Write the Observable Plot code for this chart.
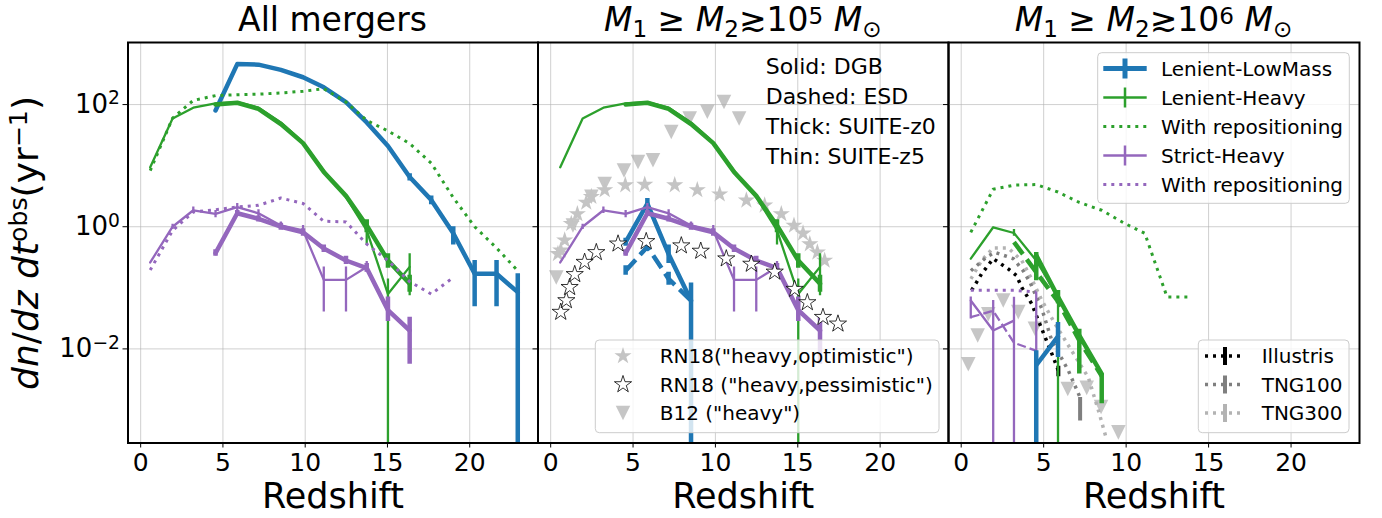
<!DOCTYPE html>
<html>
<head>
<meta charset="utf-8">
<script src="https://cdn.jsdelivr.net/npm/d3@7"></script>
<script src="https://cdn.jsdelivr.net/npm/@observablehq/plot@0.6"></script>
<style>
html,body{margin:0;padding:0;background:#fff;}
#wrap{position:relative;width:1382px;height:518px;overflow:hidden;font-family:"DejaVu Sans",sans-serif;color:#000;}
.ttl{position:absolute;transform:translateX(-50%);font-size:33px;line-height:40px;white-space:nowrap;}
.ttl sub,.ttl sup,.ylab sup{font-size:0.7em;line-height:0;vertical-align:0;position:relative;}
.ttl sub{top:0.25em;}
.ttl sup{top:-0.32em;}
.ylab{position:absolute;left:26px;top:243px;transform:translate(-50%,-50%) rotate(-90deg);font-size:36px;line-height:40px;white-space:nowrap;}
.ylab sup{top:-0.45em;}
</style>
</head>
<body>
<div id="wrap"></div>
<script>
// ---------------- axes / labels ----------------
const X_DOMAIN = [-0.77, 24.15];
const Y_DOMAIN = [2.88e-4, 1038];
const X_TICKS = [0, 5, 10, 15, 20];
const Y_TICKS = [1e-2, 1, 1e2];
const Y_TICK_EXP = ["−2", "0", "2"];
const LOW = 1e-7; // error bars whose lower end reaches zero
const PANEL_TITLES = [
  "All mergers",
  "<i>M</i><sub>1</sub> ≥ <i>M</i><sub>2</sub>≳10<sup>5</sup> <i>M</i><sub>⊙</sub>",
  "<i>M</i><sub>1</sub> ≥ <i>M</i><sub>2</sub>≳10<sup>6</sup> <i>M</i><sub>⊙</sub>"
];
const Y_LABEL = "<i>dn</i>/<i>dz</i> <i>dt</i><sup>obs</sup>(yr<sup>−1</sup>)";
const X_LABEL = "Redshift";
const STYLE_NOTE = ["Solid: DGB", "Dashed: ESD", "Thick: SUITE-z0", "Thin: SUITE-z5"];
const LEGEND_MAIN = ["Lenient-LowMass", "Lenient-Heavy", "With repositioning", "Strict-Heavy", "With repositioning"];
const LEGEND_SIMS = ["Illustris", "TNG100", "TNG300"];
const LEGEND_OBS = ['RN18("heavy,optimistic")', 'RN18 ("heavy,pessimistic")', 'B12 ("heavy")'];

// ---------------- panel 1: all mergers  [z, rate] ----------------
const allLowMassThick = [[4.55,80],[5.87,460],[7.16,450],[8.52,370],[9.87,280],[11.13,192],[12.48,110],[13.74,51],[15.03,21],[16.35,6.5],[17.66,2.75],[19.0,0.78],[20.3,0.17],[21.63,0.17],[22.92,0.085]];
const allLowMassThickErr = [[16.35,5.6,7.4],[17.66,2.3,3.2],[19.0,0.5,1.0],[20.3,0.049,0.28],[21.63,0.049,0.28],[22.92,LOW,0.17]];
const allHeavyThin = [[0.58,9.4],[1.94,59],[3.2,89],[4.55,105],[5.87,110],[7.16,89],[8.52,51],[9.87,24],[11.13,8.3],[12.48,3.05],[13.74,0.87],[15.03,0.079],[16.35,0.22]];
const allHeavyThinErr = [[13.74,0.5,1.0],[15.03,LOW,0.14],[16.35,0.074,0.36]];
const allHeavyThick = [[4.55,100],[5.87,107],[7.16,85],[8.52,48],[9.87,23.4],[11.13,7.9],[12.48,3.2],[13.74,1.05],[15.03,0.28],[16.35,0.117]];
const allHeavyThickErr = [[13.74,0.8,1.3],[15.03,0.21,0.36],[16.35,0.085,0.16]];
const allHeavyRepo = [[0.58,8.3],[1.94,60],[3.2,117],[4.55,140],[5.87,145],[7.16,148],[8.52,155],[9.87,165],[11.13,182],[12.48,110],[13.74,55],[15.03,37],[16.35,23],[17.66,11],[19.0,3.0],[20.3,1.0],[21.63,0.45],[22.92,0.19]];
const allStrictThin = [[0.58,0.26],[1.94,1.0],[3.2,1.86],[4.55,1.62],[5.87,2.1],[7.16,1.66],[8.52,1.05],[9.87,0.87],[11.13,0.135],[12.48,0.135],[13.74,0.22]];
const allStrictThinErr = [[1.94,0.9,1.1],[3.2,1.65,2.1],[4.55,1.4,1.85],[5.87,1.85,2.4],[7.16,1.45,1.9],[8.52,0.9,1.2],[9.87,0.72,1.05],[11.13,0.04,0.22],[12.48,0.04,0.22],[13.74,0.18,0.27]];
const allStrictThick = [[4.55,0.37],[5.87,1.66],[7.16,1.35],[8.52,1.0],[9.87,0.81],[11.13,0.44],[12.48,0.28],[13.74,0.21],[15.03,0.043],[16.35,0.020]];
const allStrictThickErr = [[4.55,0.33,0.42],[5.87,1.5,1.85],[7.16,1.2,1.5],[8.52,0.88,1.14],[9.87,0.7,0.93],[11.13,0.38,0.5],[12.48,0.24,0.33],[13.74,0.18,0.25],[15.03,0.028,0.071],[16.35,0.0056,0.033]];
const allStrictRepo = [[0.58,0.195],[1.94,0.87],[3.2,1.74],[4.55,1.9],[5.87,2.1],[7.16,2.24],[8.52,2.95],[9.87,2.4],[11.13,1.23],[12.48,1.2],[13.74,0.52],[15.03,0.28],[16.35,0.126],[17.66,0.079],[19.0,0.148]];

// ---------------- panel 2: M2 >~ 1e5 ----------------
const m5LowMassSolid = [[4.55,0.56],[5.87,2.4],[7.16,0.355],[8.52,0.062]];
const m5LowMassSolidErr = [[4.55,0.48,0.65],[5.87,2.0,2.9],[7.16,0.25,0.5],[8.52,LOW,0.12]];
const m5LowMassDashed = [[4.55,0.19],[5.87,0.47],[7.16,0.14],[8.52,0.062]];
const m5LowMassDashedErr = [[4.55,0.16,0.23],[7.16,0.11,0.18]];
const rn18Optimistic = [[0.44,0.36],[0.61,0.41],[0.85,0.60],[1.25,1.12],[1.62,1.62],[2.16,2.5],[2.47,3.1],[3.28,4.0],[4.53,4.8],[5.71,4.9],[7.53,4.8],[8.9,4.0],[10.26,3.4],[11.88,2.7],[12.99,2.24],[14.0,1.62],[14.77,1.05],[15.32,0.78],[15.73,0.52],[16.19,0.38],[16.63,0.28]];
const rn18Pessimistic = [[0.61,0.040],[0.95,0.062],[1.15,0.102],[1.46,0.166],[2.06,0.263],[2.77,0.38],[4.09,0.525],[5.8,0.575],[7.93,0.49],[9.11,0.40],[10.66,0.30],[12.18,0.245],[13.6,0.182],[14.81,0.095],[15.58,0.0575],[16.53,0.033],[17.44,0.0257]];
const b12HeavyM5 = [[0.34,0.148],[1.35,1.05],[2.47,3.1],[3.28,5.0],[4.45,8.3],[5.3,11.5],[6.21,12.3],[7.32,35.5],[8.44,59],[9.51,76],[10.52,110],[11.44,59]];

// ---------------- panel 3: M2 >~ 1e6 ----------------
const m6HeavyRepo = [[0.58,0.81],[1.94,4.1],[3.2,4.8],[4.55,4.9],[5.87,3.7],[7.16,2.5],[8.52,1.86],[9.87,1.15],[11.13,0.78],[12.48,0.071],[13.74,0.071]];
const m6HeavyThin = [[0.58,0.30],[1.94,0.98],[3.2,0.79],[4.55,0.28],[5.87,0.07]];
const m6HeavyThinErr = [[3.2,0.7,0.9],[4.55,0.2,0.35],[5.87,LOW,0.085]];
const m6HeavyThick = [[4.55,0.34],[5.87,0.071],[7.16,0.0166],[8.52,0.0039]];
const m6HeavyThickErr = [[4.55,0.13,0.38],[5.87,0.055,0.09],[7.16,0.0039,0.021],[8.52,0.00126,0.0039]];
const m6HeavyDashed = [[3.2,0.56],[4.55,0.18],[5.87,0.06],[7.16,0.0138],[8.52,0.0036]];
const m6StrictRepo = [[0.58,0.091],[1.94,0.091],[3.2,0.091],[4.55,0.085]];
const m6StrictThin = [[0.58,0.062],[1.94,0.020],[3.2,0.029]];
const m6StrictThinErr = [[0.58,0.031,0.071],[1.94,LOW,0.062],[3.2,LOW,0.07],[4.55,LOW,0.085]];
const m6StrictDashed = [[0.58,0.033],[1.94,0.042],[3.2,0.0126],[4.55,0.0093]];
const m6LowMassSolid = [[4.55,0.0054],[5.87,0.016]];
const m6LowMassSolidErr = [[4.55,LOW,0.0093],[5.87,0.0072,0.027]];
const illustris = [[0.63,0.091],[0.93,0.123],[1.24,0.17],[1.94,0.30],[2.85,0.204],[3.36,0.158],[3.67,0.102],[4.27,0.055],[4.88,0.0214],[5.59,0.0072],[5.89,0.0044]];
const illustrisErr = [[5.89,0.0035,0.0052]];
const tng100 = [[0.59,0.19],[1.54,0.32],[2.05,0.38],[3.16,0.30],[3.76,0.19],[4.17,0.123],[4.88,0.046],[5.49,0.0138],[6.5,0.0044],[7.21,0.0016]];
const tng100Err = [[7.21,0.00066,0.0016]];
const tng300 = [[0.59,0.14],[1.24,0.28],[1.94,0.45],[2.85,0.45],[3.67,0.28],[4.27,0.14],[4.88,0.063],[5.69,0.0257],[6.7,0.0093],[7.71,0.0034],[8.32,0.00098],[8.83,0.00032]];
const b12HeavyM6 = [[0.43,0.0056],[1.0,0.0166],[1.64,0.037],[2.55,0.062],[3.46,0.040],[4.47,0.0214],[6.46,0.0022],[7.61,0.0023],[8.48,0.00112],[9.53,0.00043]];

// ---------------- styles ----------------
const BLUE = "#1f77b4", GREEN = "#2ca02c", PURPLE = "#9467bd";
const GRAY1 = "#7f7f7f", GRAY2 = "#b3b3b3";
const THICK = 4.5, THIN = 2.3;
const DOT = "3,5", DASH_THICK = "15,6.5", DASH_THIN = "9,4";
const STAR_R = 5.4, TRI_R = 5.8;

const wrap = document.getElementById("wrap");
const rows = pts => pts.map(([z, v]) => ({z, v}));
const erows = e => e.map(([z, lo, hi]) => ({z, lo, hi}));
const line = (pts, stroke, w, dash) => Plot.line(rows(pts), {x: "z", y: "v", stroke, strokeWidth: w, strokeDasharray: dash, strokeLinecap: dash ? "butt" : "round", clip: true});
const err = (e, stroke, w) => Plot.ruleX(erows(e), {x: "z", y1: "lo", y2: "hi", stroke, strokeWidth: w, clip: true});
const triangleDown = {draw(ctx, size) { const a = Math.sqrt(size / 2); ctx.moveTo(0, a); ctx.lineTo(-a, -a); ctx.lineTo(a, -a); ctx.closePath(); }};
const tri = pts => Plot.dot(rows(pts), {x: "z", y: "v", symbol: triangleDown, r: TRI_R, fill: "#a8a8a8", fillOpacity: 0.65, stroke: "none", clip: true});
const starFilled = pts => Plot.dot(rows(pts), {x: "z", y: "v", symbol: "star", r: STAR_R, fill: "#c4c4c4", stroke: "none"});
const starHollow = pts => Plot.dot(rows(pts), {x: "z", y: "v", symbol: "star", r: STAR_R, fill: "white", stroke: "#000", strokeWidth: 0.8});

function panel(left, width, mL, mR, showY, marks) {
  const svg = Plot.plot({
    width, height: 518,
    marginLeft: mL, marginRight: mR, marginTop: 42, marginBottom: 75.5,
    style: {background: "transparent", overflow: "visible", fontFamily: "'DejaVu Sans', sans-serif", color: "#000"},
    x: {domain: X_DOMAIN},
    y: {type: "log", domain: Y_DOMAIN},
    marks: [
      Plot.gridX(X_TICKS, {stroke: "#b0b0b0", strokeOpacity: 0.6, strokeWidth: 1}),
      Plot.gridY(Y_TICKS, {stroke: "#b0b0b0", strokeOpacity: 0.6, strokeWidth: 1}),
      ...marks,
      Plot.axisX(X_TICKS, {tickSize: 5, tickPadding: 5, fontSize: 25, label: null, tickFormat: d => String(d)}),
      Plot.axisY(Y_TICKS, {tickSize: 5, tickPadding: 3, fontSize: 26, label: null, tickFormat: showY ? (d => "10^" + Y_TICK_EXP[Y_TICKS.indexOf(d)]) : (() => "")}),
      Plot.text([X_LABEL], {frameAnchor: "bottom", lineAnchor: "middle", dy: 54, fontSize: 35}),
      Plot.frame({stroke: "#000", strokeWidth: 2})
    ]
  });
  // render y tick exponents as real superscripts
  d3.select(svg).selectAll('g[aria-label="y-axis tick label"] text').each(function () {
    const t = this.textContent;
    const k = t.indexOf("^");
    if (k < 0) return;
    const base = t.slice(0, k), exp = t.slice(k + 1);
    this.textContent = base;
    d3.select(this).append("tspan").attr("dy", "-0.45em").attr("font-size", "0.72em").text(exp);
  });
  svg.style.position = "absolute";
  svg.style.left = left + "px";
  svg.style.top = "0px";
  wrap.appendChild(svg);
}

// Panel 1
panel(0, 548, 127.5, 10.5, true, [
  line(allLowMassThick, BLUE, THICK), err(allLowMassThickErr, BLUE, THICK),
  line(allHeavyRepo, GREEN, 3, DOT),
  line(allHeavyThin, GREEN, THIN), err(allHeavyThinErr, GREEN, THIN),
  line(allHeavyThick, GREEN, THICK), err(allHeavyThickErr, GREEN, THICK),
  line(allStrictRepo, PURPLE, 3, DOT),
  line(allStrictThin, PURPLE, THIN), err(allStrictThinErr, PURPLE, THIN),
  line(allStrictThick, PURPLE, THICK), err(allStrictThickErr, PURPLE, THICK)
]);

// Panel 2
panel(527, 431, 10.5, 10, false, [
  tri(b12HeavyM5), starFilled(rn18Optimistic),
  line(m5LowMassSolid, BLUE, THICK), err(m5LowMassSolidErr, BLUE, THICK),
  line(m5LowMassDashed, BLUE, THICK, DASH_THICK), err(m5LowMassDashedErr, BLUE, THICK),
  line(allHeavyThin, GREEN, THIN), err(allHeavyThinErr, GREEN, THIN),
  line(allHeavyThick, GREEN, THICK), err(allHeavyThickErr, GREEN, THICK),
  line(allStrictThin, PURPLE, THIN), err(allStrictThinErr, PURPLE, THIN),
  line(allStrictThick, PURPLE, THICK), err(allStrictThickErr, PURPLE, THICK),
  starHollow(rn18Pessimistic)
]);

// Panel 3
panel(938, 444, 10, 23, false, [
  tri(b12HeavyM6),
  line(tng300, GRAY2, 3.5, DOT),
  line(tng100, GRAY1, 3.5, DOT), err(tng100Err, GRAY1, 4),
  line(illustris, "#000", 3.5, DOT), err(illustrisErr, "#000", 4),
  line(m6HeavyRepo, GREEN, 3, DOT),
  line(m6HeavyThin, GREEN, THIN), err(m6HeavyThinErr, GREEN, THIN),
  line(m6HeavyThick, GREEN, THICK), err(m6HeavyThickErr, GREEN, THICK),
  line(m6HeavyDashed, GREEN, THICK, DASH_THICK),
  line(m6StrictRepo, PURPLE, 3, DOT),
  line(m6StrictThin, PURPLE, THIN), err(m6StrictThinErr, PURPLE, THIN),
  line(m6StrictDashed, PURPLE, THIN, DASH_THIN),
  line(m6LowMassSolid, BLUE, THICK), err(m6LowMassSolidErr, BLUE, THICK)
]);

// ---------------- titles & y label (HTML text) ----------------
const TITLE_X = [332.5, 742.75, 1153.5];
PANEL_TITLES.forEach((t, i) => {
  const d = document.createElement("div");
  d.className = "ttl";
  d.innerHTML = t;
  d.style.left = TITLE_X[i] + "px";
  d.style.top = "0px";
  wrap.appendChild(d);
});
const yl = document.createElement("div");
yl.className = "ylab";
yl.innerHTML = Y_LABEL;
wrap.appendChild(yl);

// ---------------- legends (overlay) ----------------
const ov = d3.select(wrap).append("svg")
  .attr("width", 1382).attr("height", 518)
  .style("position", "absolute").style("left", "0px").style("top", "0px")
  .style("font-family", "'DejaVu Sans', sans-serif");

function box(x, y, w, h) {
  ov.append("rect").attr("x", x).attr("y", y).attr("width", w).attr("height", h).attr("rx", 4)
    .attr("fill", "white").attr("fill-opacity", 0.8).attr("stroke", "#cccccc").attr("stroke-width", 1);
}
function label(x, y, t, size) {
  ov.append("text").attr("x", x).attr("y", y).attr("dy", "0.35em").attr("font-size", size).attr("fill", "#000").text(t);
}
function handle(x1, x2, y, color, w, dash, ebar, ebw) {
  ov.append("line").attr("x1", x1).attr("x2", x2).attr("y1", y).attr("y2", y)
    .attr("stroke", color).attr("stroke-width", w).attr("stroke-dasharray", dash || null);
  if (ebar) ov.append("line").attr("x1", (x1 + x2) / 2).attr("x2", (x1 + x2) / 2).attr("y1", y - ebar).attr("y2", y + ebar)
    .attr("stroke", color).attr("stroke-width", ebw || w);
}

// panel 2 style note
STYLE_NOTE.forEach((t, i) => label(765.7, 66.5 + i * 30, t, 22));

// panel 2 observation legend
box(595.3, 340, 343.7, 92.7);
const obsRows = [356, 384.5, 413];
const starPath = d3.symbol(d3.symbolStar, Math.PI * STAR_R * STAR_R)();
const triPath = d3.symbol(triangleDown, Math.PI * TRI_R * TRI_R)();
ov.append("path").attr("d", starPath).attr("transform", `translate(623,${obsRows[0]})`).attr("fill", "#c4c4c4");
ov.append("path").attr("d", starPath).attr("transform", `translate(623,${obsRows[1]})`).attr("fill", "white").attr("stroke", "#000").attr("stroke-width", 0.8);
ov.append("path").attr("d", triPath).attr("transform", `translate(623,${obsRows[2]})`).attr("fill", "#a8a8a8").attr("fill-opacity", 0.65);
LEGEND_OBS.forEach((t, i) => label(659.7, obsRows[i], t, 20));

// panel 3 main legend
box(1097.7, 52.7, 251.6, 150.6);
const mainRows = [68.5, 97.5, 126.5, 155.5, 184.5];
const mainStyles = [
  [BLUE, 5, null, 10], [GREEN, 2.5, null, 10], [GREEN, 3, DOT, 0], [PURPLE, 2.5, null, 10], [PURPLE, 3, DOT, 0]
];
LEGEND_MAIN.forEach((t, i) => {
  const [c, w, dash, eb] = mainStyles[i];
  handle(1103.3, 1146.7, mainRows[i], c, w, dash, eb, w);
  label(1161, mainRows[i], t, 20);
});

// panel 3 simulation legend
box(1198.3, 340, 150.7, 92.7);
const simColors = ["#000", GRAY1, GRAY2];
LEGEND_SIMS.forEach((t, i) => {
  handle(1205, 1245, obsRows[i], simColors[i], 3.5, DOT, 9, 4);
  label(1261.7, obsRows[i], t, 20);
});
</script>
</body>
</html>
